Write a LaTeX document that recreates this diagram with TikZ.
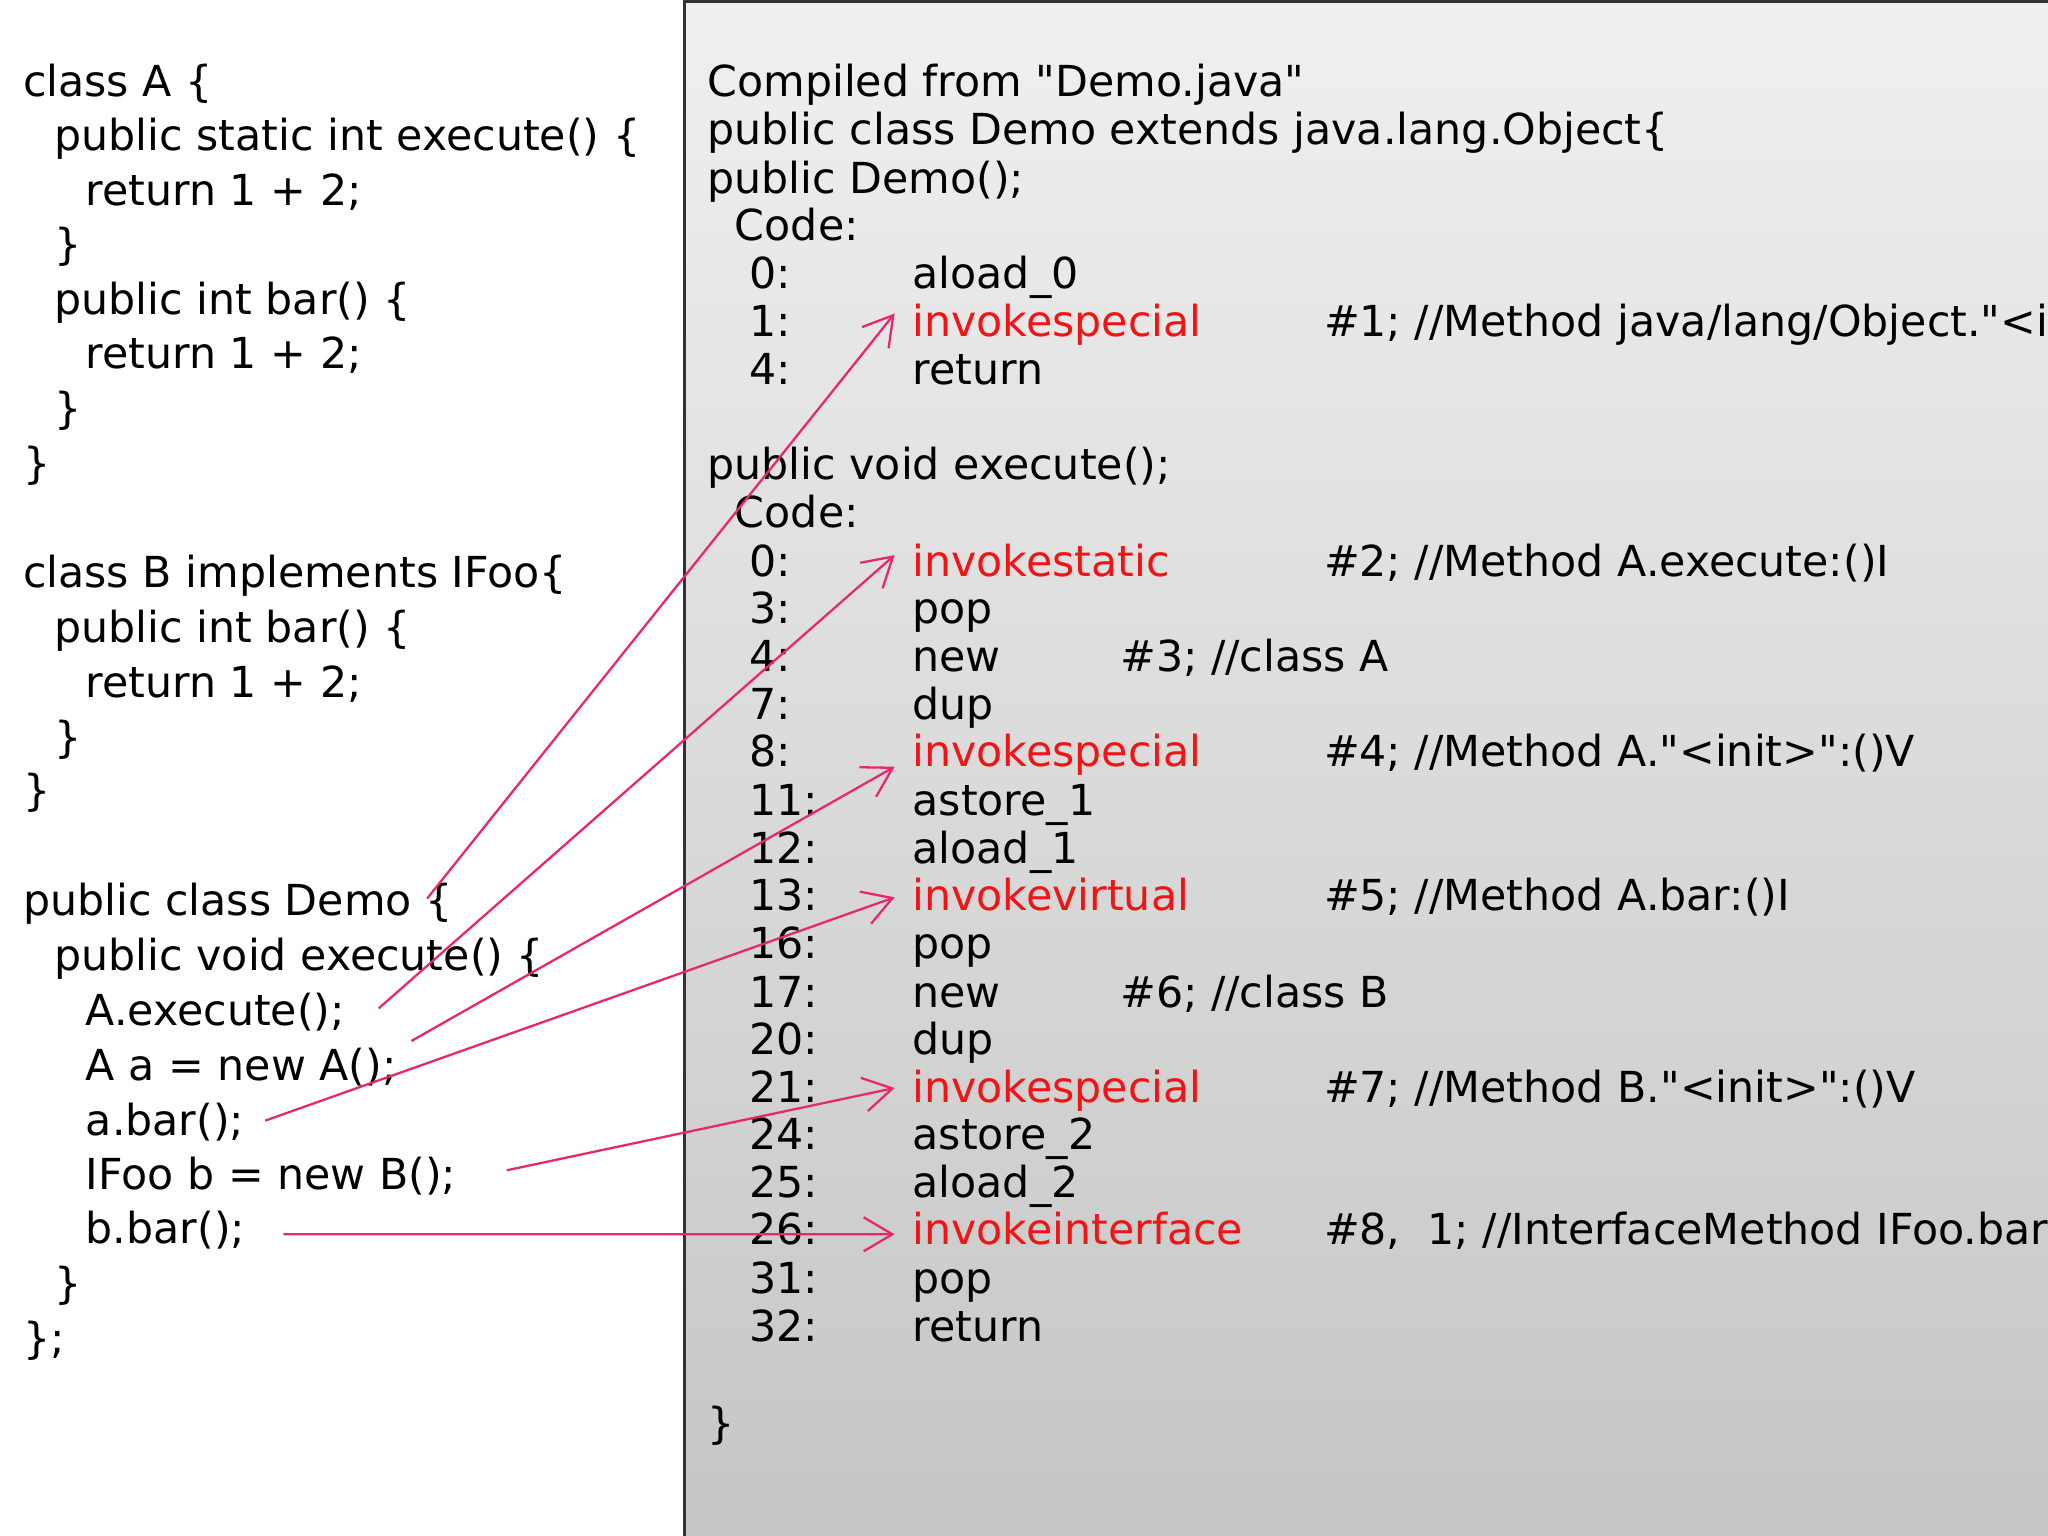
\documentclass[tikz,border=0pt]{standalone}
\usepackage{fontspec}
\setmainfont{DejaVu Sans}[Ligatures=TeXOff]
\usetikzlibrary{arrows.meta}
\definecolor{callpink}{RGB}{232,40,110}
\definecolor{opred}{RGB}{240,20,20}
\tikzset{
  src/.style={anchor=base west,inner sep=0pt,font=\fontsize{9.3}{11}\selectfont},
  op/.style={src,text=opred},
  call/.style={callpink,line width=0.5pt,-{Straight Barb[length=2.2mm,width=2.6mm]}}
}
\begin{document}
\begin{tikzpicture}[x=0.01cm,y=-0.01cm]
\useasboundingbox (0,0) rectangle (1568,1176);
\clip (0,0) rectangle (1568,1176);
\fill[white] (0,0) rectangle (1568,1176);
% bytecode panel
\shade[top color=gray!12,bottom color=gray!45] (524,0) rectangle (1580,1180);
\draw[black!80,line width=0.8pt] (524,1180) -- (524,1) -- (1580,1);

% java source
\begin{scope}[yshift=-0.11cm]
\node[src] (a1) at (17,63) {class A \{};
\node[src] (a2) at (41,104) {public static int execute() \{};
\node[src] (a3) at (65,146) {return 1 + 2;};
\node[src] (a4) at (41,188) {\}};
\node[src] (a5) at (41,230) {public int bar() \{};
\node[src] (a6) at (65,271) {return 1 + 2;};
\node[src] (a7) at (41,313) {\}};
\node[src] (a8) at (17,355) {\}};
\node[src] (b1) at (17,439) {class B implements IFoo\{};
\node[src] (b2) at (41,481) {public int bar() \{};
\node[src] (b3) at (65,523) {return 1 + 2;};
\node[src] (b4) at (41,565) {\}};
\node[src] (b5) at (17,606) {\}};
\node[src] (d1) at (17,690) {public class Demo \{};
\node[src] (d2) at (41,732) {public void execute() \{};
\node[src] (d3) at (65,774) {A.execute();};
\node[src] (d4) at (65,816) {A a = new A();};
\node[src] (d5) at (65,858) {a.bar();};
\node[src] (d6) at (65,900) {IFoo b = new B();};
\node[src] (d7) at (65,941) {b.bar();};
\node[src] (d8) at (41,983) {\}};
\node[src] (d9) at (17,1025) {\};};

% javap output
\node[src] (h1) at (541,63) {Compiled from "Demo.java"};
\node[src] (h2) at (541,100) {public class Demo extends java.lang.Object\{};
\node[src] (h3) at (541,137) {public Demo();};
\node[src] (h4) at (562,173) {Code:};
\foreach \n/\y in {0/210,1/247,4/283}
  \node[src] at (573,\y) {\n:};
\node[src] (c0) at (698,210) {aload\_0};
\node[op] (c1) at (698,247) {invokespecial};
\node[src] at (1013,247) {\#1; //Method java/lang/Object."<init>":()V};
\node[src] (c4) at (698,283) {return};

\node[src] (e1) at (541,356) {public void execute();};
\node[src] (e2) at (562,393) {Code:};
\foreach \n/\y in {0/430,3/466,4/503,7/540,8/576,11/613,12/650,13/686,16/723,17/760,20/796,21/833,24/869,25/906,26/942,31/979,32/1016}
  \node[src] at (573,\y) {\n:};
\node[op] (i0) at (698,430) {invokestatic};
\node[src] at (1013,430) {\#2; //Method A.execute:()I};
\node[src] (i3) at (698,466) {pop};
\node[src] (i4) at (698,503) {new};
\node[src] at (857,503) {\#3; //class A};
\node[src] (i7) at (698,540) {dup};
\node[op] (i8) at (698,576) {invokespecial};
\node[src] at (1013,576) {\#4; //Method A."<init>":()V};
\node[src] (i11) at (698,613) {astore\_1};
\node[src] (i12) at (698,650) {aload\_1};
\node[op] (i13) at (698,686) {invokevirtual};
\node[src] at (1013,686) {\#5; //Method A.bar:()I};
\node[src] (i16) at (698,723) {pop};
\node[src] (i17) at (698,760) {new};
\node[src] at (857,760) {\#6; //class B};
\node[src] (i20) at (698,796) {dup};
\node[op] (i21) at (698,833) {invokespecial};
\node[src] at (1013,833) {\#7; //Method B."<init>":()V};
\node[src] (i24) at (698,869) {astore\_2};
\node[src] (i25) at (698,906) {aload\_2};
\node[op] (i26) at (698,942) {invokeinterface};
\node[src] at (1013,942) {\#8,\ \ 1; //InterfaceMethod IFoo.bar:()I};
\node[src] (i31) at (698,979) {pop};
\node[src] (i32) at (698,1016) {return};
\node[src] (e3) at (541,1090) {\}};
\end{scope}

% call sites to bytecodes
\coordinate (s1) at (327,688);
\coordinate (s2) at (290,772);
\coordinate (s3) at (315,797);
\coordinate (s4) at (203,858);
\coordinate (s5) at (388,896);
\coordinate (s6) at (217,945);
\draw[call] (s1) -- ([xshift=-0.13cm,yshift=0.18cm]c1.base west);
\draw[call] (s2) -- ([xshift=-0.13cm,yshift=0.16cm]i0.base west);
\draw[call] (s3) -- ([xshift=-0.13cm,yshift=0.0cm]i8.base west);
\draw[call] (s4) -- ([xshift=-0.13cm,yshift=0.10cm]i13.base west);
\draw[call] (s5) -- ([xshift=-0.13cm,yshift=0.11cm]i21.base west);
\draw[call] (s6) -- ([xshift=-0.13cm,yshift=0.08cm]i26.base west);
\end{tikzpicture}
\end{document}
